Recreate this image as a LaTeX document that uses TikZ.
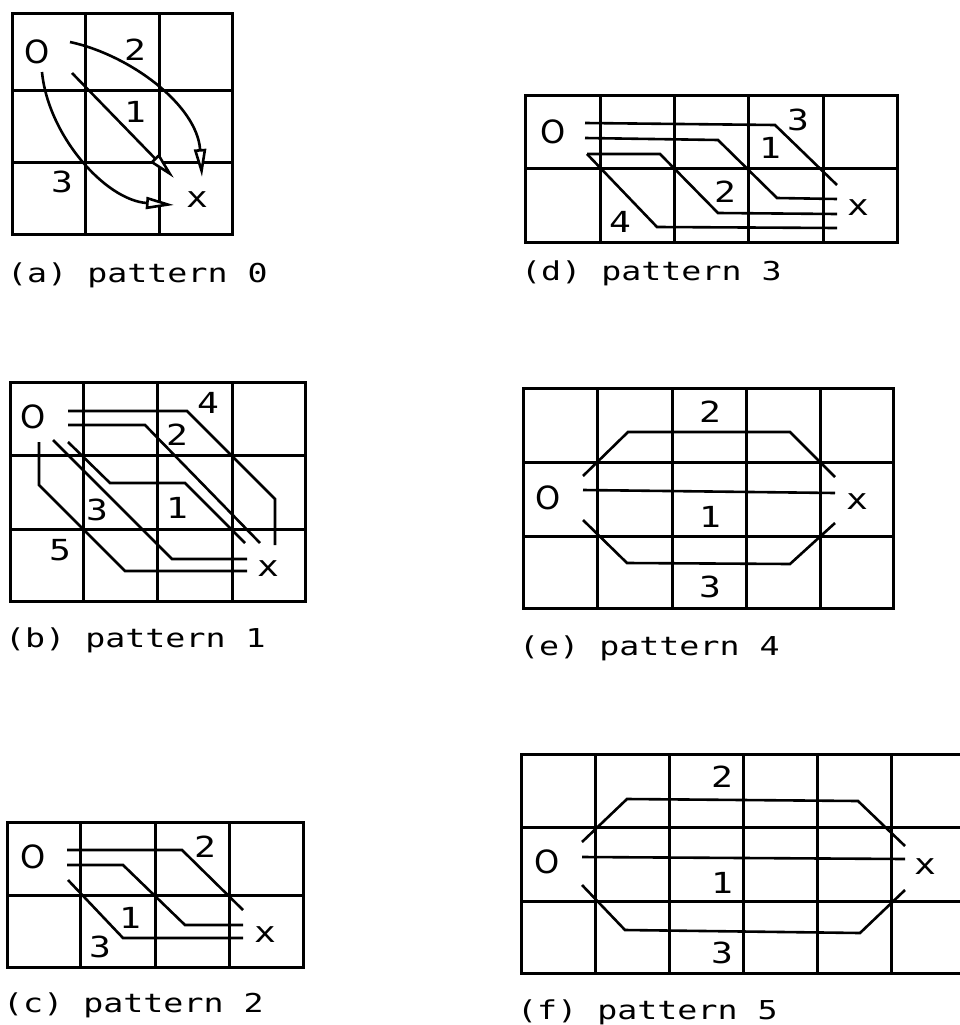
\documentclass[tikz,border=0pt]{standalone}
\usepackage{fontspec}
\newfontfamily\plotfont{DejaVu Sans Mono}
\newfontfamily\roundfont{DejaVu Sans}
\usetikzlibrary{arrows.meta}
\newcommand\plt[1]{\scalebox{1.28}[1]{#1}}
\newcommand\lab[1]{\scalebox{1.25}[1]{#1}}
\newcommand\oh{{\roundfont\fontsize{32}{32}\selectfont O}}
\begin{document}
\begin{tikzpicture}[x=1pt,y=-1pt,
  gridline/.style={line width=3pt, line cap=rect},
  route/.style={line width=2.6pt, line join=miter},
  lbl/.style={font=\plotfont\fontsize{29}{29}\selectfont, inner sep=0pt},
  captext/.style={font=\plotfont\fontsize{26}{26}\selectfont, inner sep=0pt, anchor=base west},
  arr/.style={route, -{Triangle[open, fill=white, length=28pt, width=12pt]}}]
\fill[white] (0,0) rectangle (959,1025);
\useasboundingbox (0,0) rectangle (959,1025);

% ---------- (a) pattern 0 ----------
\foreach \x in {12,85,159,232} \draw[gridline] (\x,14) -- (\x,234);
\foreach \y in {14,90,162,234} \draw[gridline] (12,\y) -- (232,\y);
\node[lbl] (aO) at (37,52) {\oh};
\node[lbl] (a2) at (135,50) {\lab{2}};
\node[lbl] (a1) at (135,112) {\lab{1}};
\node[lbl] (a3) at (62,182) {\lab{3}};
\node[lbl] (ax) at (197,200) {\lab{x}};
\coordinate (aS2) at (70,42);  \coordinate (aE2) at (202,177);
\coordinate (aS1) at (72,73);  \coordinate (aE1) at (174,178);
\coordinate (aS3) at (42,72);  \coordinate (aE3) at (174,205);
\draw[arr] (aS2) .. controls (130,55) and (197,105) .. (aE2);
\draw[arr] (aS1) -- (aE1);
\draw[arr] (aS3) .. controls (48,135) and (105,200) .. (aE3);
\node[captext] (capa) at (7,282) {\plt{(a) pattern 0}};

% ---------- (b) pattern 1 ----------
\foreach \x in {10,83,157,232,305} \draw[gridline] (\x,382) -- (\x,601);
\foreach \y in {382,455,529,601} \draw[gridline] (10,\y) -- (305,\y);
\node[lbl] (bO) at (33,417) {\oh};
\node[lbl] (b4) at (208,403) {\lab{4}};
\node[lbl] (b2) at (177,435) {\lab{2}};
\node[lbl] (b1) at (177,508) {\lab{1}};
\node[lbl] (b3) at (97,510) {\lab{3}};
\node[lbl] (b5) at (60,550) {\lab{5}};
\node[lbl] (bx) at (268,569) {\lab{x}};
\draw[route] (68,411) -- (187,411) -- (275,499) -- (275,545);
\draw[route] (68,425) -- (145,425) -- (260,543);
\draw[route] (68,442) -- (110,483) -- (185,483) -- (245,543);
\draw[route] (53,440) -- (172,559) -- (247,559);
\draw[route] (39,442) -- (39,485) -- (125,571) -- (247,571);
\node[captext] (capb) at (5,647) {\plt{(b) pattern 1}};

% ---------- (c) pattern 2 ----------
\foreach \x in {7,80,155,229,303} \draw[gridline] (\x,822) -- (\x,967);
\foreach \y in {822,895,967} \draw[gridline] (7,\y) -- (303,\y);
\node[lbl] (cO) at (33,857) {\oh};
\node[lbl] (c2) at (205,847) {\lab{2}};
\node[lbl] (c1) at (130,918) {\lab{1}};
\node[lbl] (c3) at (100,947) {\lab{3}};
\node[lbl] (cx) at (265,935) {\lab{x}};
\draw[route] (67,850) -- (182,850) -- (243,910);
\draw[route] (67,865) -- (123,865) -- (185,925) -- (243,925);
\draw[route] (68,880) -- (123,938) -- (243,938);
\node[captext] (capc) at (3,1012) {\plt{(c) pattern 2}};

% ---------- (d) pattern 3 ----------
\foreach \x in {525,600,674,748,823,897} \draw[gridline] (\x,95) -- (\x,242);
\foreach \y in {95,168,242} \draw[gridline] (525,\y) -- (897,\y);
\node[lbl] (dO) at (553,132) {\oh};
\node[lbl] (d3) at (798,120) {\lab{3}};
\node[lbl] (d1) at (770,148) {\lab{1}};
\node[lbl] (d2) at (725,192) {\lab{2}};
\node[lbl] (d4) at (620,222) {\lab{4}};
\node[lbl] (dx) at (858,208) {\lab{x}};
\draw[route] (585,123) -- (775,125) -- (837,185);
\draw[route] (585,138) -- (718,140) -- (777,198) -- (837,199);
\draw[route] (587,154) -- (660,154) -- (718,213) -- (837,214);
\draw[route] (587,154) -- (657,227) -- (837,228);
\node[captext] (capd) at (521,280) {\plt{(d) pattern 3}};

% ---------- (e) pattern 4 ----------
\foreach \x in {523,597,672,746,820,893} \draw[gridline] (\x,388) -- (\x,608);
\foreach \y in {388,462,536,608} \draw[gridline] (523,\y) -- (893,\y);
\node[lbl] (eO) at (548,498) {\oh};
\node[lbl] (e2) at (710,412) {\lab{2}};
\node[lbl] (e1) at (710,517) {\lab{1}};
\node[lbl] (e3) at (710,587) {\lab{3}};
\node[lbl] (ex) at (857,502) {\lab{x}};
\draw[route] (583,476) -- (628,432) -- (790,432) -- (835,477);
\draw[route] (583,490) -- (835,493);
\draw[route] (583,520) -- (627,563) -- (790,564) -- (835,523);
\node[captext] (cape) at (519,655) {\plt{(e) pattern 4}};

% ---------- (f) pattern 5 ----------
\foreach \x in {521,595,669,743,817,891} \draw[gridline] (\x,754) -- (\x,973);
\foreach \y in {754,827,901,973} \draw[gridline] (521,\y) -- (970,\y);
\node[lbl] (fO) at (547,862) {\oh};
\node[lbl] (f2) at (722,777) {\lab{2}};
\node[lbl] (f1) at (722,883) {\lab{1}};
\node[lbl] (f3) at (722,953) {\lab{3}};
\node[lbl] (fx) at (925,867) {\lab{x}};
\draw[route] (582,842) -- (627,799) -- (858,801) -- (905,846);
\draw[route] (582,857) -- (905,859);
\draw[route] (582,885) -- (625,930) -- (860,933) -- (905,890);
\node[captext] (capf) at (517,1019) {\plt{(f) pattern 5}};
\end{tikzpicture}
\end{document}
